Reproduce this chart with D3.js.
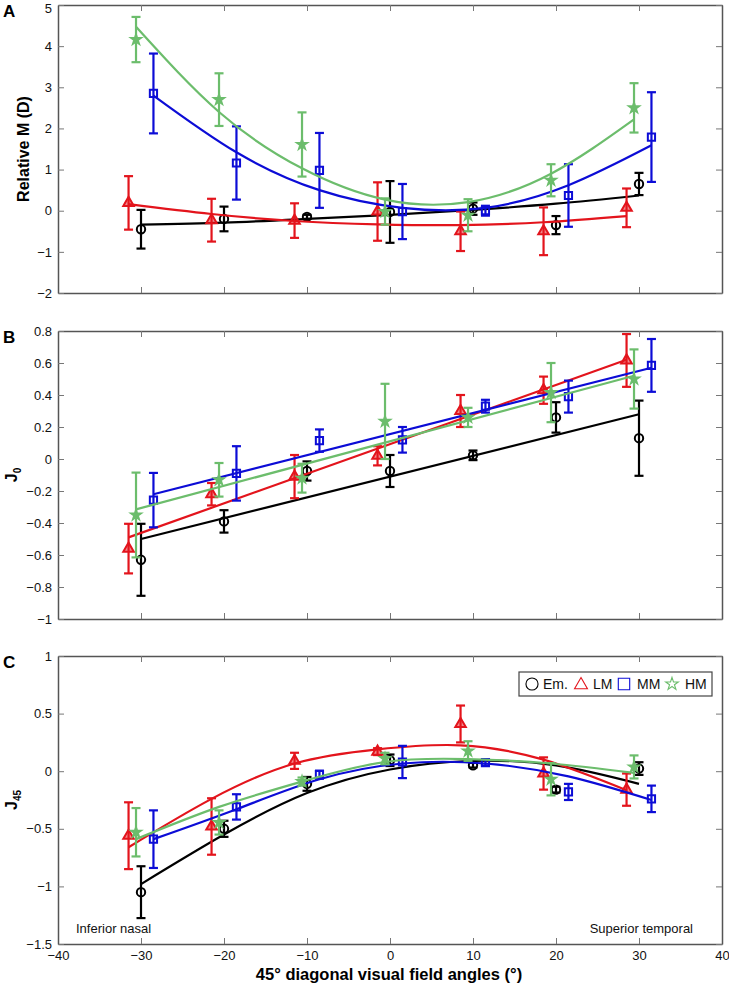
<!DOCTYPE html>
<html><head><meta charset="utf-8">
<script src="https://cdn.jsdelivr.net/npm/d3@7"></script>
<style>
html,body{margin:0;padding:0;background:#fff;}
svg{display:block;font-family:"Liberation Sans",Arial,sans-serif;}
</style></head>
<body>
<script>
// ---------- DATA ----------
const angles = [-30, -20, -10, 0, 10, 20, 30];
const groups = ["Em.", "LM", "MM", "HM"];
const groupOffsets = [0, -1.5, 1.5, -0.6];     // small horizontal shift of each group (degrees)
const groupColors = ["#000000", "#e3141c", "#0c0cd6", "#6cbd6c"];
const xTicks = [-40, -30, -20, -10, 0, 10, 20, 30, 40];

// Panel A: Relative M (D)
const aTicks = [-2, -1, 0, 1, 2, 3, 4, 5];
const aEm = [-0.45, -0.2, -0.15, -0.03, 0.05, -0.35, 0.65];
const aEmErr = [0.47, 0.3, 0.05, 0.75, 0.15, 0.22, 0.27];
const aLM = [0.19, -0.23, -0.24, -0.02, -0.5, -0.5, 0.07];
const aLMErr = [0.65, 0.52, 0.42, 0.71, 0.48, 0.58, 0.47];
const aMM = [2.85, 1.16, 0.98, -0.02, 0.0, 0.37, 1.79];
const aMMErr = [0.97, 0.89, 0.91, 0.67, 0.12, 0.76, 1.09];
const aHM = [4.16, 2.7, 1.61, -0.02, -0.11, 0.74, 2.5];
const aHMErr = [0.55, 0.64, 0.78, 0.32, 0.39, 0.39, 0.6];
const aEmFit = [-0.34, -0.29, -0.2, -0.1, 0.02, 0.17, 0.37];
const aLMFit = [0.16, -0.08, -0.25, -0.33, -0.35, -0.28, -0.13];
const aMMFit = [2.8, 1.42, 0.5, 0.07, 0.07, 0.62, 1.59];
const aHMFit = [4.47, 2.4, 1.03, 0.27, 0.21, 0.9, 2.22];

// Panel B: J0
const bTicks = [-1, -0.8, -0.6, -0.4, -0.2, 0, 0.2, 0.4, 0.6, 0.8];
const bEm = [-0.63, -0.39, -0.075, -0.075, 0.023, 0.26, 0.13];
const bEmErr = [0.225, 0.07, 0.06, 0.1, 0.03, 0.095, 0.235];
const bLM = [-0.56, -0.22, -0.11, 0.02, 0.3, 0.43, 0.616];
const bLMErr = [0.155, 0.07, 0.135, 0.06, 0.1, 0.085, 0.165];
const bMM = [-0.257, -0.09, 0.115, 0.12, 0.33, 0.39, 0.585];
const bMMErr = [0.17, 0.17, 0.07, 0.08, 0.04, 0.1, 0.165];
const bHM = [-0.35, -0.13, -0.12, 0.235, 0.26, 0.415, 0.5];
const bHMErr = [0.265, 0.105, 0.09, 0.235, 0.06, 0.185, 0.185];
// straight fits: value at first and last angle of each group
const bEmFit = [-0.5, 0.28];
const bLMFit = [-0.49, 0.62];
const bMMFit = [-0.22, 0.57];
const bHMFit = [-0.315, 0.52];

// Panel C: J45
const cTicks = [-1.5, -1, -0.5, 0, 0.5, 1];
const cEm = [-1.05, -0.5, -0.11, 0.095, 0.052, -0.16, 0.023];
const cEmErr = [0.225, 0.07, 0.06, 0.05, 0.02, 0.025, 0.055];
const cLM = [-0.56, -0.48, 0.09, 0.17, 0.41, -0.02, -0.16];
const cLMErr = [0.29, 0.245, 0.07, 0.03, 0.16, 0.14, 0.14];
const cMM = [-0.59, -0.31, -0.03, 0.08, 0.075, -0.18, -0.24];
const cMMErr = [0.25, 0.11, 0.035, 0.14, 0.025, 0.07, 0.115];
const cHM = [-0.53, -0.445, -0.09, 0.11, 0.175, -0.07, 0.037];
const cHMErr = [0.21, 0.105, 0.035, 0.05, 0.085, 0.14, 0.1];
const cEmFit = [-0.98, -0.55, -0.19, 0.015, 0.09, 0.05, -0.11];
const cLMFit = [-0.66, -0.24, 0.067, 0.19, 0.225, 0.1, -0.165];
const cMMFit = [-0.59, -0.33, -0.07, 0.067, 0.067, -0.045, -0.25];
const cHMFit = [-0.59, -0.31, -0.09, 0.08, 0.105, 0.067, -0.015];

// ---------- BUILD ----------
const panels = [
  {letter: "A", ticks: aTicks, vals: [aEm, aLM, aMM, aHM], errs: [aEmErr, aLMErr, aMMErr, aHMErr],
   fits: [aEmFit, aLMFit, aMMFit, aHMFit], straight: false},
  {letter: "B", ticks: bTicks, vals: [bEm, bLM, bMM, bHM], errs: [bEmErr, bLMErr, bMMErr, bHMErr],
   fits: [bEmFit, bLMFit, bMMFit, bHMFit], straight: true},
  {letter: "C", ticks: cTicks, vals: [cEm, cLM, cMM, cHM], errs: [cEmErr, cLMErr, cMMErr, cHMErr],
   fits: [cEmFit, cLMFit, cMMFit, cHMFit], straight: false}
];

const W = 729, H = 987;
const L = 58, R = 722;
const tops = [5, 331, 656], ph = 288;

const svg = d3.select("body").append("svg").attr("width", W).attr("height", H);
const x = d3.scaleLinear().domain([-40, 40]).range([L, R]);
const fmt = d3.format("~g");
const symbols = [d3.symbolCircle, d3.symbolTriangle, d3.symbolSquare, d3.symbolStar];
const symSizes = [55, 48, 52, 38];

function styleAxis(g) {
  g.select(".domain").attr("stroke", "#555").attr("stroke-width", 1.5);
  g.selectAll(".tick line").attr("stroke", "#777").attr("stroke-width", 1);
  g.selectAll(".tick text").attr("font-size", 13).attr("fill", "#111")
    .attr("font-family", "'Liberation Sans', Arial, sans-serif");
}

panels.forEach((p, pi) => {
  const top = tops[pi], bot = top + ph;
  const y = d3.scaleLinear().domain([p.ticks[0], p.ticks[p.ticks.length - 1]]).range([bot, top]);
  const g = svg.append("g");

  // axes (box)
  g.append("g").attr("transform", `translate(0,${bot})`)
    .call(d3.axisBottom(x).tickValues(xTicks).tickSize(-6).tickSizeOuter(0).tickPadding(7)
      .tickFormat(pi === 2 ? fmt : () => "")).call(styleAxis);
  g.append("g").attr("transform", `translate(0,${top})`)
    .call(d3.axisTop(x).tickValues(xTicks).tickSize(-6).tickSizeOuter(0).tickFormat(() => "")).call(styleAxis);
  const la = g.append("g").attr("transform", `translate(${L},0)`)
    .call(d3.axisLeft(y).tickValues(p.ticks).tickSize(-6).tickSizeOuter(0).tickPadding(6).tickFormat(fmt)).call(styleAxis);
  // keep the topmost label of the first panel inside the page
  if (pi === 0) la.selectAll(".tick text").filter(d => d === p.ticks[p.ticks.length - 1]).attr("y", 3);
  g.append("g").attr("transform", `translate(${R},0)`)
    .call(d3.axisRight(y).tickValues(p.ticks).tickSize(-6).tickSizeOuter(0).tickFormat(() => "")).call(styleAxis);

  // series
  groups.forEach((name, si) => {
    const col = groupColors[si];
    const xs = angles.map(a => a + groupOffsets[si]);
    const vals = p.vals[si], errs = p.errs[si], fit = p.fits[si];
    const fitPts = p.straight
      ? [[xs[0], fit[0]], [xs[xs.length - 1], fit[1]]]
      : xs.map((xv, i) => [xv, fit[i]]);
    const line = d3.line().x(d => x(d[0])).y(d => y(d[1]))
      .curve(p.straight ? d3.curveLinear : d3.curveNatural);
    g.append("path").attr("d", line(fitPts)).attr("fill", "none")
      .attr("stroke", col).attr("stroke-width", 2.2);

    const pts = xs.map((xv, i) => ({x: xv, v: vals[i], e: errs[i]}));
    const eb = g.append("g").attr("stroke", col).attr("stroke-width", 2.2);
    pts.forEach(d => {
      const cx = x(d.x), y1 = y(d.v + d.e), y2 = y(d.v - d.e);
      eb.append("line").attr("x1", cx).attr("x2", cx).attr("y1", y1).attr("y2", y2);
      eb.append("line").attr("x1", cx - 4.5).attr("x2", cx + 4.5).attr("y1", y1).attr("y2", y1);
      eb.append("line").attr("x1", cx - 4.5).attr("x2", cx + 4.5).attr("y1", y2).attr("y2", y2);
    });
    const sym = d3.symbol().type(symbols[si]).size(symSizes[si]);
    g.append("g").selectAll("path").data(pts).join("path")
      .attr("d", sym)
      .attr("transform", d => `translate(${x(d.x)},${y(d.v)})`)
      .attr("fill", si === 3 ? col : (si === 1 ? col : "none"))
      .attr("fill-opacity", si === 1 ? 0.5 : 1)
      .attr("stroke", col).attr("stroke-width", si === 3 ? 1.5 : 2);
  });

  // panel letter
  svg.append("text").attr("x", 3).attr("y", top + 12).text(p.letter)
    .attr("font-size", 17).attr("font-weight", "bold")
    .attr("font-family", "'Liberation Sans', Arial, sans-serif");
});

// y labels
const yMid = i => tops[i] + ph / 2;
svg.append("text").attr("transform", `translate(29,${yMid(0)}) rotate(-90)`)
  .attr("text-anchor", "middle").attr("font-size", 16).attr("font-weight", "bold")
  .text("Relative M (D)");
function jLabel(i, sub) {
  const t = svg.append("text").attr("transform", `translate(17,${yMid(i)}) rotate(-90)`)
    .attr("text-anchor", "middle").attr("font-size", 16).attr("font-weight", "bold");
  t.append("tspan").text("J");
  t.append("tspan").attr("font-size", 10).attr("dy", 4).text(sub);
}
jLabel(1, "0");
jLabel(2, "45");

// x label
svg.append("text").attr("x", 389).attr("y", 980).attr("text-anchor", "middle")
  .attr("font-size", 16.5).attr("font-weight", "bold")
  .text("45° diagonal visual field angles (°)");

// annotations
svg.append("text").attr("x", 76).attr("y", 933).attr("font-size", 13).attr("fill", "#111").text("Inferior nasal");
svg.append("text").attr("x", 693).attr("y", 933).attr("text-anchor", "end").attr("font-size", 13).attr("fill", "#111").text("Superior temporal");

// legend
const lg = svg.append("g");
lg.append("rect").attr("x", 519).attr("y", 672).attr("width", 193).attr("height", 24)
  .attr("fill", "#fff").attr("stroke", "#444").attr("stroke-width", 1.2);
const legX = [532, 581, 624, 672];
const legTX = [543, 593, 637, 685];
const legSizes = [115, 72, 130, 50];
groups.forEach((name, i) => {
  lg.append("path").attr("d", d3.symbol().type(symbols[i]).size(legSizes[i]))
    .attr("transform", `translate(${legX[i]},${i === 1 ? 685 : 684})`)
    .attr("fill", "none").attr("stroke", groupColors[i]).attr("stroke-width", 1.1);
  lg.append("text").attr("x", legTX[i]).attr("y", 689).attr("font-size", 14).attr("fill", "#111").text(name);
});
</script>
</body></html>
